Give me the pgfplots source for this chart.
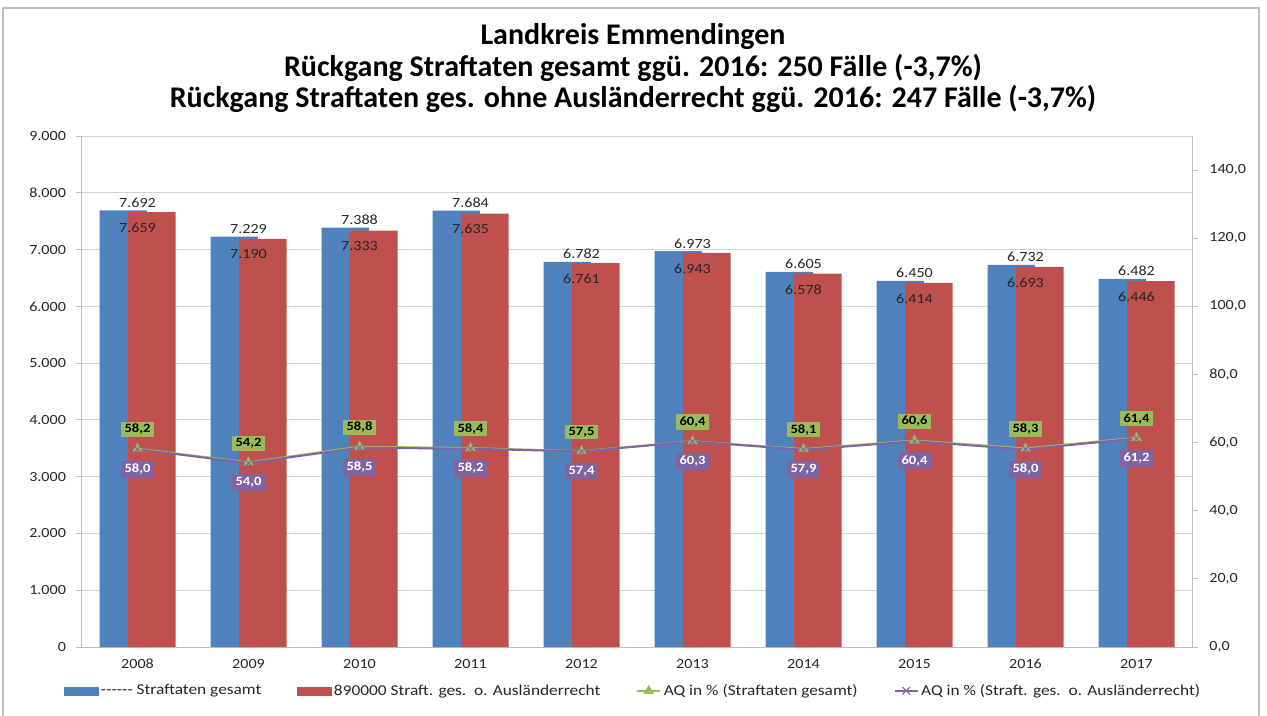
\documentclass[border=0pt]{standalone}
\usepackage{pgfplots}
\pgfplotsset{compat=1.18}
\usepackage{fontspec}
\setmainfont{Carlito}[FakeStretch=1.15]
\newfontfamily\titlefont{Carlito}
\definecolor{barblue}{HTML}{4F81BD}
\definecolor{barred}{HTML}{C0504D}
\definecolor{aqgreen}{HTML}{9BBB59}
\definecolor{aqpurple}{HTML}{8064A2}
\definecolor{gridgray}{HTML}{D4D4D4}
\definecolor{axgray}{HTML}{BFBFBF}
\definecolor{txt}{HTML}{262626}
\begin{document}
\begin{tikzpicture}
\path[use as bounding box] (0,0) rectangle (950.25pt,536.25pt);
\draw[axgray, line width=1pt] (2.25pt,-2pt) -- (2.25pt,530.25pt) -- (944.25pt,530.25pt) -- (944.25pt,-2pt);
\node[anchor=base, font=\titlefont\bfseries\fontsize{22.5}{26}\selectfont, text=black] at (474.75pt,502.5pt) {Landkreis Emmendingen};
\node[anchor=base, font=\titlefont\bfseries\fontsize{22.5}{26}\selectfont, text=black] at (474.75pt,478.5pt) {Rückgang Straftaten gesamt ggü. 2016: 250 Fälle (-3,7\%)};
\node[anchor=base, font=\titlefont\bfseries\fontsize{22.5}{26}\selectfont, text=black] at (474.75pt,455.25pt) {Rückgang Straftaten ges. ohne Ausländerrecht ggü. 2016: 247 Fälle (-3,7\%)};

\begin{axis}[
  at={(61.5pt,51pt)}, anchor=south west, scale only axis,
  width=832.5pt, height=383.25pt,
  xmin=-0.5, xmax=9.5, ymin=0, ymax=9000,
  xtick={0,1,2,3,4,5,6,7,8,9},
  xticklabels={2008,2009,2010,2011,2012,2013,2014,2015,2016,2017},
  ytick={0,1000,2000,3000,4000,5000,6000,7000,8000,9000},
  scaled y ticks=false,
  /pgf/number format/assume math mode=true,
  /pgf/number format/use comma,
  /pgf/number format/1000 sep={.},
  ymajorgrids, grid style={gridgray, line width=0.75pt},
  axis x line*=bottom, axis y line*=left,
  axis line style={-, draw=axgray, line width=0.75pt},
  tick align=outside,
  x tick style={draw=none},
  y tick style={draw=axgray, line width=0.75pt},
  major tick length=4.5pt,
  ticklabel style={font=\fontsize{10.5}{12}\selectfont, text=txt},
  yticklabel style={xshift=-4pt},
  xticklabel style={yshift=-1pt},
  nodes near coords,
  every node near coord/.append style={font=\fontsize{10.5}{12}\selectfont, text=txt},
]
\addplot[ybar, bar width=35.6pt, bar shift=-10.7pt, fill=barblue, draw=none,
  every node near coord/.append style={anchor=south, inner sep=2pt}]
  coordinates {(0,7692) (1,7229) (2,7388) (3,7684) (4,6782) (5,6973) (6,6605) (7,6450) (8,6732) (9,6482)};
\addplot[ybar, bar width=35.6pt, bar shift=10.7pt, fill=barred, draw=none,
  every node near coord/.append style={anchor=north, inner sep=2pt, yshift=-6pt}]
  coordinates {(0,7659) (1,7190) (2,7333) (3,7635) (4,6761) (5,6943) (6,6578) (7,6414) (8,6693) (9,6446)};
\end{axis}

\begin{axis}[
  at={(61.5pt,51pt)}, anchor=south west, scale only axis,
  width=832.5pt, height=383.25pt,
  xmin=-0.5, xmax=9.5, ymin=0, ymax=150,
  axis x line=none, axis y line*=right,
  ytick={0,20,40,60,80,100,120,140},
  /pgf/number format/assume math mode=true,
  /pgf/number format/fixed,
  /pgf/number format/fixed zerofill,
  /pgf/number format/precision=1,
  /pgf/number format/use comma,
  axis line style={-, draw=axgray, line width=0.75pt},
  tick align=outside,
  y tick style={draw=axgray, line width=0.75pt},
  major tick length=4.5pt,
  ticklabel style={font=\fontsize{10.5}{12}\selectfont, text=txt},
  yticklabel style={xshift=5pt},
  legend columns=4,
  legend style={at={(0.497,-0.062)}, anchor=north, draw=none, fill=none,
    font=\fontsize{11.3}{13}\selectfont, text=txt,
    /tikz/every even column/.append style={column sep=25pt}},
]
\addlegendimage{legend image code/.code={\fill[barblue] (0pt,-3pt) rectangle (25pt,3pt);}}
\addlegendentry{{-}{-}{-}{-}{-}{-} Straftaten gesamt}
\addlegendimage{legend image code/.code={\fill[barred] (0pt,-3pt) rectangle (25pt,3pt);}}
\addlegendentry{890000 Straft. ges.\ \ o. Ausländerrecht}
\addplot[aqgreen, line width=1.5pt, mark=triangle*, mark size=3pt,
  mark options={fill=aqgreen, draw=aqgreen},
  nodes near coords,
  every node near coord/.append style={anchor=south, yshift=8pt, fill=aqgreen, text=black,
    font=\bfseries\fontsize{9.5}{10}\selectfont, inner xsep=3pt, inner ysep=1.8pt}]
  coordinates {(0,58.2) (1,54.2) (2,58.8) (3,58.4) (4,57.5) (5,60.4) (6,58.1) (7,60.6) (8,58.3) (9,61.4)};
\addlegendentry{AQ in \% (Straftaten gesamt)}
\addplot[aqpurple, line width=1.5pt, mark=x, mark size=4pt,
  mark options={draw=aqpurple, line width=0.75pt},
  nodes near coords,
  every node near coord/.append style={anchor=north, yshift=-8pt, fill=aqpurple, text=white,
    font=\bfseries\fontsize{9.5}{10}\selectfont, inner xsep=3pt, inner ysep=2.5pt}]
  coordinates {(0,58.0) (1,54.0) (2,58.5) (3,58.2) (4,57.4) (5,60.3) (6,57.9) (7,60.4) (8,58.0) (9,61.2)};
\addlegendentry{AQ in \% (Straft. ges.\ \ o. Ausländerrecht)}
\end{axis}
\end{tikzpicture}
\end{document}
